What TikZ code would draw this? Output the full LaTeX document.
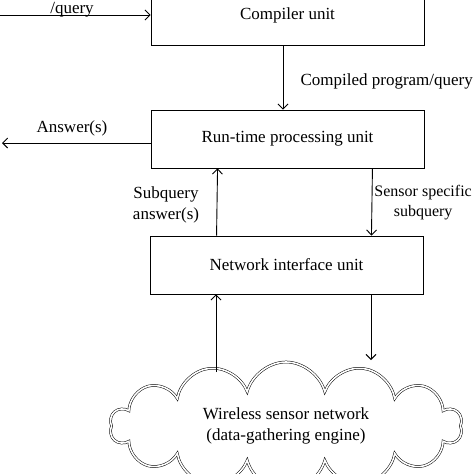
\documentclass[tikz,border=0pt]{standalone}
\usepackage{fontspec}
\setmainfont{Liberation Serif}
\usetikzlibrary{shapes.symbols,arrows.meta}

\begin{document}
\begin{tikzpicture}[x=1pt,y=-1pt,
    unit/.style={draw, line width=0.9pt, minimum width=273pt, minimum height=60pt,
        font=\fontsize{17}{20}\selectfont},
    flow/.style={-{Straight Barb[length=5pt,width=10pt]}, line width=0.9pt},
    lbl/.style={font=\fontsize{17}{21}\selectfont, align=center}
]
    \useasboundingbox (0,0) rectangle (474,474);
    \clip (0,0) rectangle (474,474);
    % units
    \node[unit] (compiler) at (287.5,15) {Compiler unit};
    \node[unit, minimum height=58pt] (runtime) at (287.5,139) {Run-time processing unit};
    \node[unit, minimum height=58pt] (network) at (286.5,265) {Network interface unit};
    % sensor field
    \node[cloud, cloud puffs=14, cloud ignores aspect, draw, double=white,
        double distance=1.6pt, line width=0.5pt, minimum width=352pt,
        minimum height=128pt, lbl] (wsn) at (286,426)
        {Wireless sensor network\\(data-gathering engine)};
    % free ends
    \coordinate (in) at (0,15);
    \coordinate (out) at (2,143);
    \coordinate (up) at (216,372);
    \coordinate (down) at (371,360);
    % connectors
    \draw[flow] (in) -- (in -| compiler.west);
    \draw[flow] ([xshift=-4.5pt]compiler.south) -- ([xshift=-4.5pt]runtime.north);
    \draw[flow] (runtime.west |- out) -- (out);
    \draw[flow] ([xshift=67pt]network.north west) -- ([xshift=67pt]runtime.south west);
    \draw[flow] ([xshift=-52pt]runtime.south east) -- ([xshift=-52pt]network.north east);
    \draw[flow] (up) -- (up |- network.south);
    \draw[flow] (down |- network.south) -- (down);
    % labels
    \node[lbl, anchor=north, inner sep=0pt] (qlbl) at (72,2) {/query};
    \node[lbl, anchor=west] (clbl) at (297,81) {Compiled program/query};
    \node[lbl] (albl) at (72,128) {Answer(s)};
    \node[lbl] (slbl) at (166,205) {Subquery\\answer(s)};
    \node[lbl, anchor=east, inner sep=1pt, font=\fontsize{16}{20}\selectfont]
        (sslbl) at (473,203) {Sensor specific\\subquery};
\end{tikzpicture}
\end{document}
